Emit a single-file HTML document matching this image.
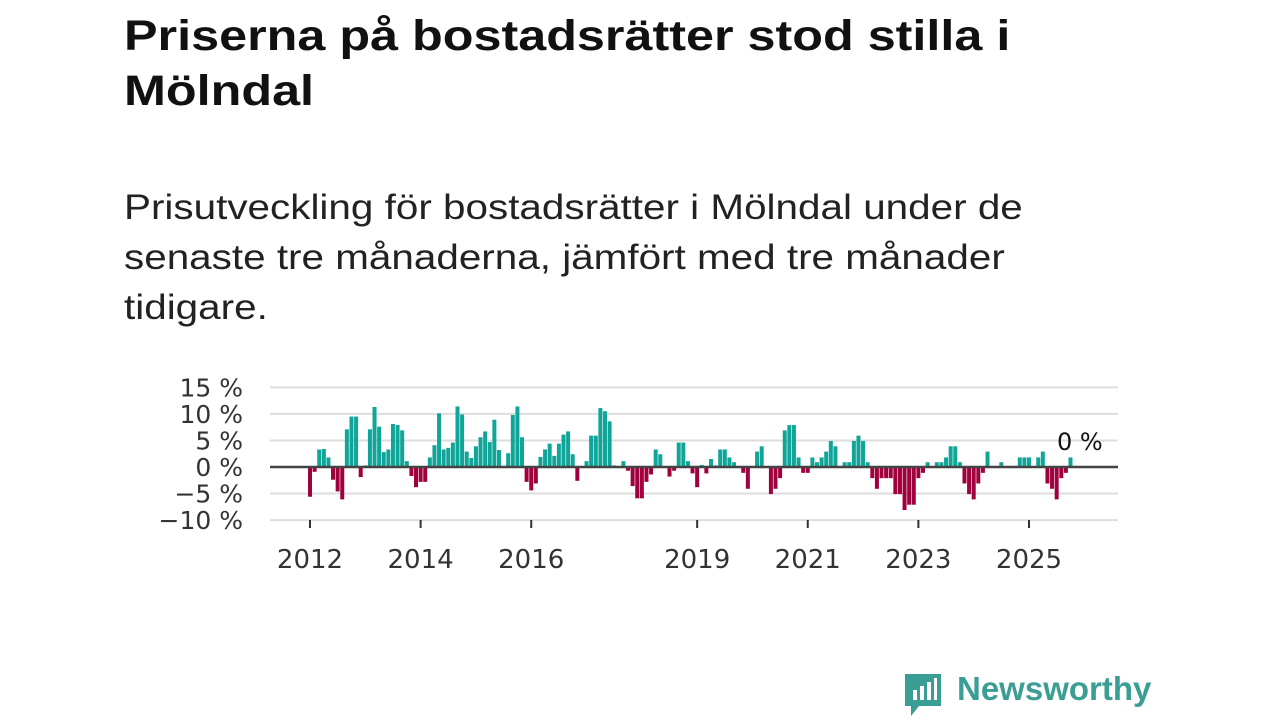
<!DOCTYPE html>
<html><head><meta charset="utf-8"><style>
body{margin:0;width:1280px;height:720px;background:#fff;overflow:hidden;font-family:"Liberation Sans",sans-serif;position:relative}
.t{position:absolute;left:124px;top:9px;font-weight:bold;font-size:43px;line-height:55px;color:#111;width:1000px;transform:scaleX(1.17);transform-origin:0 0}
.s{position:absolute;left:124px;top:183px;font-size:35px;line-height:50px;color:#222;width:1000px;transform:scaleX(1.155);transform-origin:0 0}
svg{position:absolute;left:0;top:0}
</style></head><body>
<div class="t">Priserna på bostadsrätter stod stilla i<br>Mölndal</div>
<div class="s">Prisutveckling för bostadsrätter i Mölndal under de<br>senaste tre månaderna, jämfört med tre månader<br>tidigare.</div>
<svg id="c" width="1280" height="720"></svg>
<script>
const values=[-5.6,-0.9,3.3,3.4,1.8,-2.4,-4.6,-6.1,7.1,9.5,9.5,-1.9,0.3,7.1,11.3,7.6,2.8,3.3,8.1,7.9,6.9,1.1,-1.7,-3.8,-2.8,-2.8,1.8,4.1,10.1,3.3,3.6,4.6,11.4,9.9,2.9,1.7,3.9,5.6,6.7,4.7,8.9,3.2,0,2.6,9.8,11.4,5.6,-2.8,-4.4,-3.1,1.9,3.3,4.4,2.1,4.4,
6.1,6.7,2.4,-2.6,0,1.1,5.9,5.9,11.1,10.5,8.6,0.3,0,1.1,-0.7,-3.6,-5.9,-5.9,-2.8,-1.4,3.3,2.4,0,-1.8,-0.7,4.6,4.6,1.1,-1.2,-3.8,0.4,-1.2,1.5,0.3,3.3,3.3,1.8,0.9,0,-1.1,-4.1,0,2.9,3.9,0,-5.1,-4.1,-2.1,6.9,7.9,7.9,1.8,-1.1,-1.1,1.8,0.9,1.8,2.9,4.9,3.9,
0,0.9,0.9,4.9,5.9,4.9,0.9,-2.1,-4.1,-2.1,-2.1,-2.1,-5.1,-5.1,-8.1,-7.1,-7.1,-2.1,-1.1,0.9,0,0.9,0.9,1.8,3.9,3.9,0.9,-3.1,-5.1,-6.1,-3.1,-1.1,2.9,0,0,0.9,0,0,0,1.8,1.8,1.8,0,1.8,2.9,-3.1,-4.1,-6.1,-2.1,-1.1,1.8];
const yTicks=[15,10,5,0,-5,-10];
const yTickLabels=["15 %","10 %","5 %","0 %","−5 %","−10 %"];
const xYears=[2012,2014,2016,2019,2021,2023,2025];
const startYear=2012;
const svg=document.getElementById('c');const NS='http://www.w3.org/2000/svg';
const FF='DejaVu Sans, sans-serif';
const y=v=>467-v*5.31;
const x=m=>310+m*4.609;
function mk(t,a){const e=document.createElementNS(NS,t);for(const k in a)e.setAttribute(k,a[k]);svg.appendChild(e);return e;}
yTicks.forEach((v,i)=>{if(v!==0){const g=mk('line',{x1:270,x2:1118,y1:y(v),y2:y(v),stroke:'#ddd','stroke-width':2});

}
const t=mk('text',{x:243,y:y(v)+9,'text-anchor':'end','font-size':25,fill:'#333','font-family':FF});t.textContent=yTickLabels[i];

});
values.forEach((v,m)=>{if(v===0)return;const r=mk('rect',{x:x(m)-2,width:4,y:Math.min(y(v),y(0)),height:Math.abs(y(v)-y(0)),fill:v>0?'#0fa598':'#a0003c'});

});
const z=mk('line',{x1:270,x2:1118,y1:y(0),y2:y(0),stroke:'#444','stroke-width':2.5});


xYears.forEach(yr=>{const xx=x((yr-startYear)*12);const l=mk('line',{x1:xx,x2:xx,y1:520,y2:528,stroke:'#333','stroke-width':2});


const t=mk('text',{x:xx,y:568,'text-anchor':'middle','font-size':26,fill:'#333','font-family':FF});t.textContent=yr;

});
const lb=mk('text',{x:1057,y:450,'font-size':24,fill:'#111','font-family':FF});lb.textContent='0 %';


</script>
<div style="position:absolute;left:903px;top:670px;">
<svg width="40" height="50" style="position:absolute;left:0;top:0"><path d="M2 4 h36 v32 h-22 l-8 10 v-10 h-6z" fill="#3a9e94"/><rect x="10" y="20" width="4" height="10" fill="#fff"/><rect x="17" y="16" width="4" height="14" fill="#fff"/><rect x="24" y="12" width="4" height="18" fill="#fff"/><rect x="31" y="8" width="3" height="22" fill="#fff"/></svg>
<div style="position:absolute;left:54px;top:0;font-size:33px;font-weight:bold;color:#3a9e94;white-space:nowrap">Newsworthy</div></div>
</body></html>
